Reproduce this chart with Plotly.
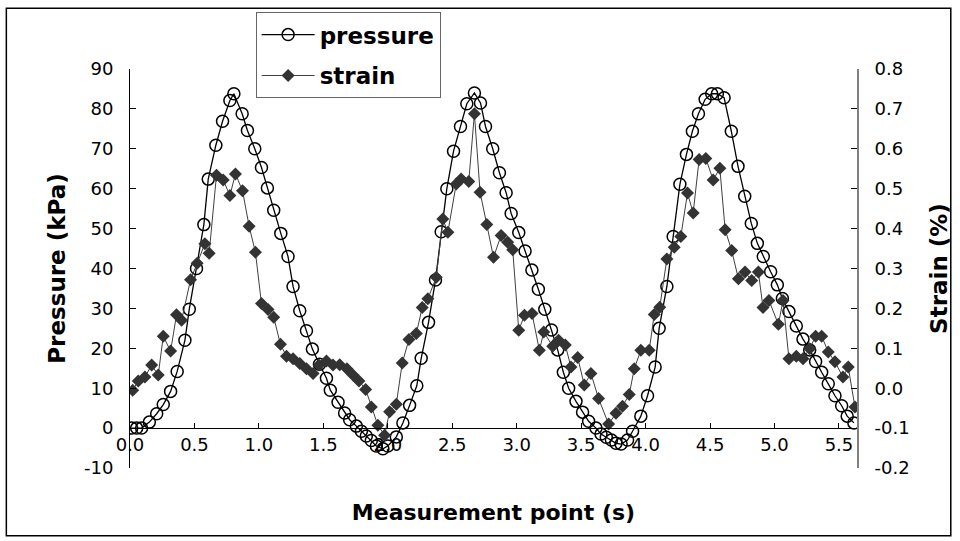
import plotly.graph_objects as go

# ---- data ----
press_t = [0.013, 0.052, 0.09, 0.15, 0.207, 0.258, 0.315, 0.366, 0.426, 0.46, 0.516,
           0.573, 0.607, 0.666, 0.718, 0.775, 0.806, 0.870, 0.911, 0.968, 1.020, 1.066,
           1.115, 1.170, 1.226, 1.265, 1.317, 1.369, 1.415, 1.47, 1.524, 1.554, 1.614,
           1.665, 1.704, 1.756, 1.795, 1.833, 1.872, 1.911, 1.962, 2.0, 2.066, 2.117,
           2.169, 2.225, 2.259, 2.316, 2.37, 2.414, 2.458, 2.51, 2.564, 2.613, 2.672,
           2.719, 2.758, 2.814, 2.866, 2.918, 2.957, 3.016, 3.065, 3.118, 3.168, 3.218,
           3.270, 3.318, 3.362, 3.403, 3.46, 3.511, 3.558, 3.615, 3.654, 3.695, 3.735,
           3.77, 3.81, 3.86, 3.899, 3.963, 4.015, 4.074, 4.105, 4.165, 4.214, 4.266,
           4.317, 4.363, 4.41, 4.462, 4.513, 4.557, 4.609, 4.665, 4.717, 4.769, 4.82,
           4.867, 4.913, 4.97, 5.022, 5.061, 5.112, 5.169, 5.221, 5.273, 5.319, 5.366,
           5.417, 5.469, 5.521, 5.564, 5.616]
pressure = [0.0, 0.0, 0.0, 1.5, 3.6, 5.9, 9.2, 14.2, 22.0, 29.8, 40.0,
            51.0, 62.4, 70.9, 76.9, 82.1, 83.8, 78.8, 74.6, 70.0, 65.3, 60.2,
            54.6, 48.8, 43.0, 35.5, 29.4, 24.4, 19.8, 16.0, 12.5, 9.5, 6.5,
            3.8, 2.1, 0.5, -0.8, -2.0, -3.1, -4.5, -5.2, -4.5, -2.2, 1.3,
            5.7, 10.6, 17.5, 26.5, 37.1, 49.2, 60.0, 69.4, 75.6, 81.3, 84.0,
            81.5, 75.6, 70.0, 64.0, 59.0, 53.8, 49.0, 44.4, 39.6, 34.8, 29.8,
            24.6, 19.6, 14.0, 10.0, 6.7, 4.0, 1.7, 0.0, -1.5, -2.3, -3.0,
            -3.8, -4.0, -3.0, -0.8, 3.0, 8.1, 15.3, 25.0, 35.5, 48.0, 61.1,
            68.6, 74.4, 78.8, 82.4, 83.8, 83.8, 82.8, 74.4, 65.6, 58.1, 51.3,
            46.3, 43.0, 39.2, 35.9, 32.5, 29.2, 25.6, 22.3, 19.6, 16.7, 14.0,
            11.1, 8.1, 5.6, 3.0, 1.3]

strain_t = [0.021, 0.064, 0.116, 0.168, 0.219, 0.258, 0.315, 0.361, 0.40, 0.47, 0.521,
            0.581, 0.614, 0.671, 0.723, 0.775, 0.818, 0.873, 0.924, 0.973, 1.02, 1.071,
            1.115, 1.167, 1.214, 1.265, 1.317, 1.369, 1.42, 1.466, 1.524, 1.575, 1.627,
            1.683, 1.73, 1.776, 1.828, 1.872, 1.923, 1.975, 2.014, 2.066, 2.112, 2.164,
            2.221, 2.267, 2.311, 2.376, 2.427, 2.466, 2.531, 2.569, 2.628, 2.672, 2.716,
            2.768, 2.82, 2.879, 2.93, 2.969, 3.016, 3.06, 3.119, 3.176, 3.21, 3.279,
            3.325, 3.377, 3.421, 3.473, 3.524, 3.576, 3.635, 3.713, 3.77, 3.821, 3.873,
            3.912, 3.963, 4.028, 4.067, 4.11, 4.165, 4.222, 4.273, 4.325, 4.369, 4.415,
            4.467, 4.524, 4.576, 4.617, 4.668, 4.72, 4.771, 4.823, 4.875, 4.911, 4.957,
            5.03, 5.066, 5.112, 5.169, 5.221, 5.273, 5.319, 5.366, 5.417, 5.469, 5.531,
            5.572, 5.624]
strain = [-0.005, 0.018, 0.028, 0.058, 0.033, 0.13, 0.093, 0.184, 0.17, 0.272, 0.313,
          0.362, 0.338, 0.534, 0.522, 0.483, 0.537, 0.495, 0.406, 0.341, 0.212, 0.197,
          0.178, 0.11, 0.08, 0.074, 0.062, 0.049, 0.037, 0.058, 0.068, 0.058, 0.059,
          0.049, 0.033, 0.018, -0.003, -0.047, -0.093, -0.118, -0.059, -0.04, 0.063, 0.122,
          0.137, 0.202, 0.224, 0.278, 0.424, 0.391, 0.512, 0.524, 0.518, 0.688, 0.491,
          0.41, 0.328, 0.383, 0.366, 0.347, 0.145, 0.183, 0.187, 0.095, 0.141, 0.105,
          0.12, 0.108, 0.053, 0.077, 0.008, 0.037, -0.026, -0.09, -0.063, -0.045, -0.016,
          0.049, 0.095, 0.095, 0.185, 0.203, 0.324, 0.353, 0.38, 0.489, 0.439, 0.573,
          0.576, 0.522, 0.551, 0.397, 0.345, 0.274, 0.291, 0.27, 0.291, 0.202, 0.22,
          0.16, 0.22, 0.074, 0.08, 0.074, 0.099, 0.13, 0.13, 0.091, 0.066, 0.028,
          0.053, -0.047]

x_tickvals = [0.0, 0.5, 1.0, 1.5, 2.0, 2.5, 3.0, 3.5, 4.0, 4.5, 5.0, 5.5]
x_ticktext = ["0.0", "0.5", "1.0", "1.5", "2.0", "2.5", "3.0", "3.5", "4.0", "4.5", "5.0", "5.5"]
y_tickvals = [-10, 0, 10, 20, 30, 40, 50, 60, 70, 80, 90]
y_ticktext = ["-10", "0", "10", "20", "30", "40", "50", "60", "70", "80", "90"]
y2_tickvals = [-0.2, -0.1, 0.0, 0.1, 0.2, 0.3, 0.4, 0.5, 0.6, 0.7, 0.8]
y2_ticktext = ["-0.2", "-0.1", "0.0", "0.1", "0.2", "0.3", "0.4", "0.5", "0.6", "0.7", "0.8"]

FONT = "DejaVu Sans"
tickfont = dict(family=FONT, size=18, color="black")
titlefont = dict(family=FONT, size=23, color="black", weight="bold")

fig = go.Figure()
fig.add_trace(go.Scatter(
    x=press_t, y=pressure, name="pressure", mode="lines+markers", legendgroup="p",
    line=dict(color="black", width=1.3),
    marker=dict(symbol="circle-open", size=12, color="black", line=dict(width=1.5)),
    yaxis="y"))
fig.add_trace(go.Scatter(
    x=strain_t, y=strain, name="strain", mode="lines+markers", legendgroup="s",
    line=dict(color="#404040", width=1),
    marker=dict(symbol="diamond", size=10, color="#333333"),
    yaxis="y2"))

fig.update_layout(
    width=960, height=541,
    margin=dict(l=130, r=101, t=68, b=73, pad=0),
    paper_bgcolor="white", plot_bgcolor="white",
    font=dict(family=FONT, color="black"),
    xaxis=dict(range=[0, 5.64], tickvals=x_tickvals, ticktext=x_ticktext,
               anchor="free", position=0.1,
               showline=True, linecolor="black", linewidth=1,
               ticks="inside", ticklen=5, tickcolor="black",
               showgrid=False, zeroline=False, tickfont=tickfont,
               title=dict(text="Measurement point (s)",
                          font=dict(family=FONT, size=22, color="black", weight="bold"),
                          standoff=50)),
    yaxis=dict(range=[-10, 90], tickvals=y_tickvals, ticktext=y_ticktext,
               showline=True, linecolor="black", linewidth=1,
               ticks="inside", ticklen=6, tickcolor="black",
               ticklabelstandoff=12,
               showgrid=False, zeroline=False, tickfont=tickfont,
               title=dict(text="Pressure (kPa)", font=titlefont, standoff=11)),
    yaxis2=dict(range=[-0.2, 0.8], tickvals=y2_tickvals, ticktext=y2_ticktext,
                overlaying="y", side="right", anchor="x",
                showline=True, linecolor="#808080", linewidth=2,
                ticks="inside", ticklen=6, tickcolor="black",
                ticklabelstandoff=12,
                showgrid=False, zeroline=False, tickfont=tickfont,
                title=dict(text="Strain (%)", font=titlefont, standoff=22)),
    legend=dict(x=0.1728, y=1.1425, xanchor="left", yanchor="top",
                bgcolor="white", bordercolor="#666666", borderwidth=1,
                font=dict(family=FONT, size=23, color="black", weight="bold"),
                itemwidth=53, tracegroupgap=8),
    showlegend=True,
    shapes=[dict(type="rect", xref="paper", yref="paper",
                 x0=-0.1701, x1=1.129, y0=-0.17, y1=1.1525,
                 line=dict(color="black", width=1.5), fillcolor="rgba(0,0,0,0)",
                 layer="below")],
)

fig.write_html("out.html")
